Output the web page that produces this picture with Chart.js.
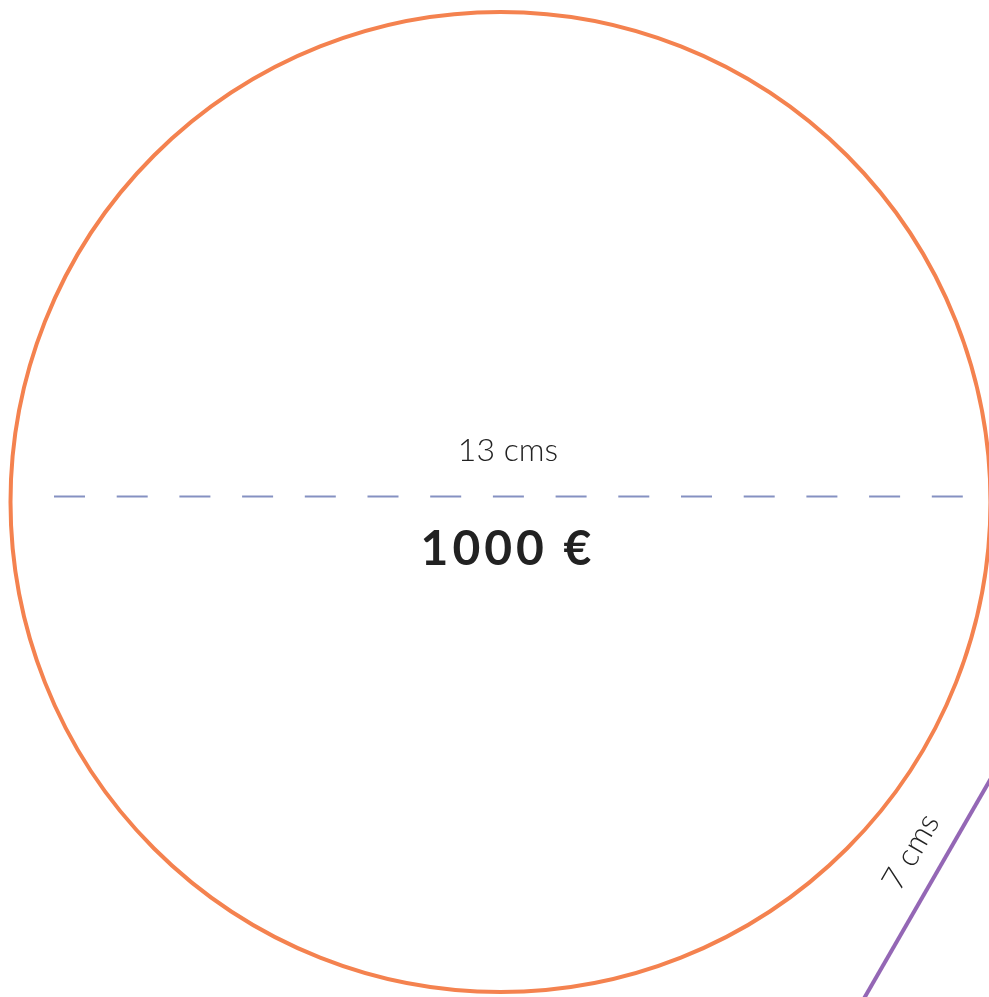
<!DOCTYPE html>
<html>
<head>
<meta charset="utf-8">
<script src="https://cdn.jsdelivr.net/npm/chart.js@4/dist/chart.umd.min.js"></script>
<style>
  html, body { margin: 0; padding: 0; background: #fff; }
  .wrap { width: 989px; height: 997px; position: relative; }
</style>
</head>
<body>
<div class="wrap"><canvas id="sizeChart"></canvas></div>
<script>
// big circle (13 cms across) in page units
const circleCenter = [500.5, 502];
const circleRadius = [490];

// dashed diameter
const diameterX = [54, 964];
const diameterY = [496.5, 496.5];

// purple side of the 7 cms shape
const sideX = [996, 858];
const sideY = [769.6, 1008.9];

// text
const labels = ['13 cms', '1000 €', '7 cms'];
const labelX = [508, 508, 911];
const labelY = [451, 550, 852];
const labelAngle = [0, 0, -60];

const textPlugin = {
  id: 'textPlugin',
  afterDatasetsDraw(chart) {
    const ctx = chart.ctx;
    const x = chart.scales.x;
    const y = chart.scales.y;
    labels.forEach((txt, i) => {
      ctx.save();
      ctx.translate(x.getPixelForValue(labelX[i]), y.getPixelForValue(labelY[i]));
      ctx.rotate(labelAngle[i] * Math.PI / 180);
      ctx.textAlign = 'center';
      ctx.textBaseline = 'middle';
      ctx.fillStyle = '#222222';
      if (i === 1) {
        ctx.font = 'bold 48px Lato, "Open Sans", sans-serif';
        ctx.letterSpacing = '4px';
      } else {
        ctx.font = '300 32px Lato, "Open Sans", sans-serif';
        ctx.letterSpacing = '0px';
      }
      ctx.fillText(txt, 0, 0);
      ctx.restore();
    });
  }
};

const ctx = document.getElementById('sizeChart').getContext('2d');
new Chart(ctx, {
  type: 'scatter',
  data: {
    datasets: [
      {
        label: 'circle',
        data: [{ x: circleCenter[0], y: circleCenter[1] }],
        pointStyle: 'circle',
        pointRadius: (c) => c.chart.scales.x.getPixelForValue(circleRadius[0]) - c.chart.scales.x.getPixelForValue(0),
        pointBorderWidth: 4,
        pointBorderColor: '#f4824f',
        pointBackgroundColor: 'rgba(0,0,0,0)',
        clip: false,
      },
      {
        label: 'diameter',
        data: diameterX.map((v, i) => ({ x: v, y: diameterY[i] })),
        showLine: true,
        borderColor: '#8591c2',
        borderWidth: 2,
        borderDash: [31, 31.7],
        pointRadius: 0,
      },
      {
        label: 'side',
        data: sideX.map((v, i) => ({ x: v, y: sideY[i] })),
        showLine: true,
        borderColor: '#9467b5',
        borderWidth: 4,
        pointRadius: 0,
      },
    ],
  },
  options: {
    responsive: true,
    maintainAspectRatio: false,
    animation: false,
    events: [],
    layout: { padding: 0 },
    plugins: {
      legend: { display: false },
      tooltip: { enabled: false },
    },
    scales: {
      x: { type: 'linear', min: 0, max: 989, display: false },
      y: { type: 'linear', min: 0, max: 997, reverse: true, display: false },
    },
  },
  plugins: [textPlugin],
});
</script>
</body>
</html>
